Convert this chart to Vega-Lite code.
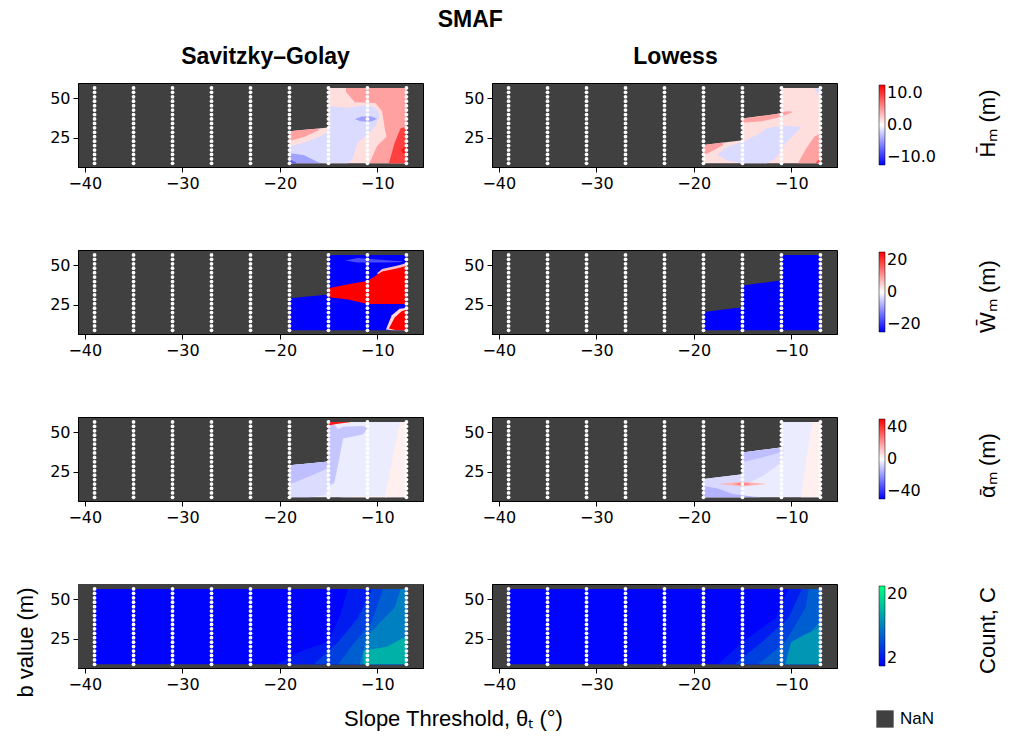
{
"$schema": "https://vega.github.io/schema/vega-lite/v6.json",
"padding": {"left": 14, "top": 8, "right": 5, "bottom": 5},
"title": {"text": "SMAF", "anchor": "middle", "dx": -36, "fontSize": 23, "fontWeight": "bold", "font": "Liberation Sans", "offset": 14},
"config": {
  "font": "Liberation Sans",
  "view": {"stroke": "black", "strokeWidth": 1, "fill": "#404040"},
  "axis": {"labelFont": "DejaVu Sans", "labelFontSize": 16, "labelColor": "black", "domainColor": "black", "tickColor": "black", "tickSize": 5, "grid": false, "titleFont": "Liberation Sans", "titleFontSize": 22, "titleFontWeight": "normal", "titleColor": "black", "labelPadding": 3},
  "legend": {"labelFont": "DejaVu Sans", "labelFontSize": 16, "labelColor": "black", "gradientLength": 80, "gradientThickness": 6, "gradientStrokeColor": "black", "gradientStrokeWidth": 0.5, "padding": 0, "labelOffset": 12},
  "title": {"font": "Liberation Sans", "fontSize": 23, "fontWeight": "bold", "color": "black"}
},
"datasets": {
"pts": [
{"x":-39,"y":8.9},{"x":-39,"y":11.7},{"x":-39,"y":14.5},{"x":-39,"y":17.3},{"x":-39,"y":20.1},{"x":-39,"y":22.9},{"x":-39,"y":25.7},{"x":-39,"y":28.5},{"x":-39,"y":31.3},{"x":-39,"y":34.1},{"x":-39,"y":36.9},{"x":-39,"y":39.7},{"x":-39,"y":42.5},{"x":-39,"y":45.3},{"x":-39,"y":48.1},{"x":-39,"y":50.9},{"x":-39,"y":53.7},{"x":-39,"y":56.5},
{"x":-35,"y":8.9},{"x":-35,"y":11.7},{"x":-35,"y":14.5},{"x":-35,"y":17.3},{"x":-35,"y":20.1},{"x":-35,"y":22.9},{"x":-35,"y":25.7},{"x":-35,"y":28.5},{"x":-35,"y":31.3},{"x":-35,"y":34.1},{"x":-35,"y":36.9},{"x":-35,"y":39.7},{"x":-35,"y":42.5},{"x":-35,"y":45.3},{"x":-35,"y":48.1},{"x":-35,"y":50.9},{"x":-35,"y":53.7},{"x":-35,"y":56.5},
{"x":-31,"y":8.9},{"x":-31,"y":11.7},{"x":-31,"y":14.5},{"x":-31,"y":17.3},{"x":-31,"y":20.1},{"x":-31,"y":22.9},{"x":-31,"y":25.7},{"x":-31,"y":28.5},{"x":-31,"y":31.3},{"x":-31,"y":34.1},{"x":-31,"y":36.9},{"x":-31,"y":39.7},{"x":-31,"y":42.5},{"x":-31,"y":45.3},{"x":-31,"y":48.1},{"x":-31,"y":50.9},{"x":-31,"y":53.7},{"x":-31,"y":56.5},
{"x":-27,"y":8.9},{"x":-27,"y":11.7},{"x":-27,"y":14.5},{"x":-27,"y":17.3},{"x":-27,"y":20.1},{"x":-27,"y":22.9},{"x":-27,"y":25.7},{"x":-27,"y":28.5},{"x":-27,"y":31.3},{"x":-27,"y":34.1},{"x":-27,"y":36.9},{"x":-27,"y":39.7},{"x":-27,"y":42.5},{"x":-27,"y":45.3},{"x":-27,"y":48.1},{"x":-27,"y":50.9},{"x":-27,"y":53.7},{"x":-27,"y":56.5},
{"x":-23,"y":8.9},{"x":-23,"y":11.7},{"x":-23,"y":14.5},{"x":-23,"y":17.3},{"x":-23,"y":20.1},{"x":-23,"y":22.9},{"x":-23,"y":25.7},{"x":-23,"y":28.5},{"x":-23,"y":31.3},{"x":-23,"y":34.1},{"x":-23,"y":36.9},{"x":-23,"y":39.7},{"x":-23,"y":42.5},{"x":-23,"y":45.3},{"x":-23,"y":48.1},{"x":-23,"y":50.9},{"x":-23,"y":53.7},{"x":-23,"y":56.5},
{"x":-19,"y":8.9},{"x":-19,"y":11.7},{"x":-19,"y":14.5},{"x":-19,"y":17.3},{"x":-19,"y":20.1},{"x":-19,"y":22.9},{"x":-19,"y":25.7},{"x":-19,"y":28.5},{"x":-19,"y":31.3},{"x":-19,"y":34.1},{"x":-19,"y":36.9},{"x":-19,"y":39.7},{"x":-19,"y":42.5},{"x":-19,"y":45.3},{"x":-19,"y":48.1},{"x":-19,"y":50.9},{"x":-19,"y":53.7},{"x":-19,"y":56.5},
{"x":-15,"y":8.9},{"x":-15,"y":11.7},{"x":-15,"y":14.5},{"x":-15,"y":17.3},{"x":-15,"y":20.1},{"x":-15,"y":22.9},{"x":-15,"y":25.7},{"x":-15,"y":28.5},{"x":-15,"y":31.3},{"x":-15,"y":34.1},{"x":-15,"y":36.9},{"x":-15,"y":39.7},{"x":-15,"y":42.5},{"x":-15,"y":45.3},{"x":-15,"y":48.1},{"x":-15,"y":50.9},{"x":-15,"y":53.7},{"x":-15,"y":56.5},
{"x":-11,"y":8.9},{"x":-11,"y":11.7},{"x":-11,"y":14.5},{"x":-11,"y":17.3},{"x":-11,"y":20.1},{"x":-11,"y":22.9},{"x":-11,"y":25.7},{"x":-11,"y":28.5},{"x":-11,"y":31.3},{"x":-11,"y":34.1},{"x":-11,"y":36.9},{"x":-11,"y":39.7},{"x":-11,"y":42.5},{"x":-11,"y":45.3},{"x":-11,"y":48.1},{"x":-11,"y":50.9},{"x":-11,"y":53.7},{"x":-11,"y":56.5},
{"x":-7,"y":8.9},{"x":-7,"y":11.7},{"x":-7,"y":14.5},{"x":-7,"y":17.3},{"x":-7,"y":20.1},{"x":-7,"y":22.9},{"x":-7,"y":25.7},{"x":-7,"y":28.5},{"x":-7,"y":31.3},{"x":-7,"y":34.1},{"x":-7,"y":36.9},{"x":-7,"y":39.7},{"x":-7,"y":42.5},{"x":-7,"y":45.3},{"x":-7,"y":48.1},{"x":-7,"y":50.9},{"x":-7,"y":53.7},{"x":-7,"y":56.5}
],
"cont": [
{"p":"H_SG","r":0,"x":-19,"lo":8.9,"hi":29.2,"v":1.3},
{"p":"H_SG","r":0,"x":-15,"lo":8.9,"hi":31.5,"v":1.3},
{"p":"H_SG","r":0,"x":-15,"lo":8.9,"hi":56.5,"v":1.3},
{"p":"H_SG","r":0,"x":-7,"lo":8.9,"hi":56.5,"v":1.3},
{"p":"H_SG","r":1,"x":-13.2,"lo":54,"hi":56.5,"v":3.7},
{"p":"H_SG","r":1,"x":-12.3,"lo":47.5,"hi":56.5,"v":3.7},
{"p":"H_SG","r":1,"x":-10.2,"lo":47,"hi":56.5,"v":3.7},
{"p":"H_SG","r":1,"x":-9.5,"lo":42,"hi":56.5,"v":3.7},
{"p":"H_SG","r":1,"x":-9.2,"lo":30,"hi":56.5,"v":3.7},
{"p":"H_SG","r":1,"x":-8.8,"lo":20,"hi":56.5,"v":3.7},
{"p":"H_SG","r":1,"x":-8.6,"lo":8.9,"hi":56.5,"v":3.7},
{"p":"H_SG","r":1,"x":-7,"lo":8.9,"hi":56.5,"v":3.7},
{"p":"H_SG","r":2,"x":-19,"lo":23,"hi":29.2,"v":3.7},
{"p":"H_SG","r":2,"x":-17.5,"lo":25.5,"hi":30.1,"v":3.7},
{"p":"H_SG","r":2,"x":-16,"lo":29.8,"hi":30.8,"v":3.7},
{"p":"H_SG","r":3,"x":-10.8,"lo":8.9,"hi":8.9,"v":3.7},
{"p":"H_SG","r":3,"x":-10,"lo":8.9,"hi":20,"v":3.7},
{"p":"H_SG","r":3,"x":-9,"lo":8.9,"hi":26,"v":3.7},
{"p":"H_SG","r":3,"x":-8.6,"lo":8.9,"hi":26,"v":3.7},
{"p":"H_SG","r":4,"x":-8.8,"lo":8.9,"hi":8.9,"v":7.5},
{"p":"H_SG","r":4,"x":-8.2,"lo":8.9,"hi":22,"v":7.5},
{"p":"H_SG","r":4,"x":-7.6,"lo":8.9,"hi":31,"v":7.5},
{"p":"H_SG","r":4,"x":-7,"lo":8.9,"hi":32,"v":7.5},
{"p":"H_SG","r":5,"x":-19,"lo":12.5,"hi":19.5,"v":-1.4},
{"p":"H_SG","r":5,"x":-17.5,"lo":10,"hi":22,"v":-1.4},
{"p":"H_SG","r":5,"x":-15.5,"lo":8.9,"hi":27,"v":-1.4},
{"p":"H_SG","r":5,"x":-15,"lo":8.9,"hi":30,"v":-1.4},
{"p":"H_SG","r":5,"x":-14.8,"lo":8.9,"hi":45,"v":-1.4},
{"p":"H_SG","r":5,"x":-13,"lo":8.9,"hi":44,"v":-1.4},
{"p":"H_SG","r":5,"x":-12.5,"lo":12,"hi":44.5,"v":-1.4},
{"p":"H_SG","r":5,"x":-12,"lo":22,"hi":45,"v":-1.4},
{"p":"H_SG","r":5,"x":-11,"lo":27,"hi":45.5,"v":-1.4},
{"p":"H_SG","r":5,"x":-10.2,"lo":32,"hi":44,"v":-1.4},
{"p":"H_SG","r":5,"x":-9.8,"lo":38,"hi":40,"v":-1.4},
{"p":"H_SG","r":6,"x":-19,"lo":8.9,"hi":15.5,"v":-3.7},
{"p":"H_SG","r":6,"x":-17.5,"lo":8.9,"hi":14,"v":-3.7},
{"p":"H_SG","r":6,"x":-16.2,"lo":8.9,"hi":10,"v":-3.7},
{"p":"H_SG","r":6,"x":-15.8,"lo":8.9,"hi":8.9,"v":-3.7},
{"p":"H_SG","r":7,"x":-12.3,"lo":36.8,"hi":36.8,"v":-3.7},
{"p":"H_SG","r":7,"x":-11.6,"lo":35.3,"hi":38.5,"v":-3.7},
{"p":"H_SG","r":7,"x":-10.6,"lo":35.3,"hi":38.5,"v":-3.7},
{"p":"H_SG","r":7,"x":-10,"lo":37,"hi":37,"v":-3.7},
{"p":"H_SG","r":8,"x":-19,"lo":8.9,"hi":11.5,"v":-6.2},
{"p":"H_SG","r":8,"x":-18.3,"lo":8.9,"hi":9.5,"v":-6.2},
{"p":"H_SG","r":9,"x":-7.5,"lo":16,"hi":18,"v":9},
{"p":"H_SG","r":9,"x":-7,"lo":14.5,"hi":19.5,"v":9},
{"p":"H_LO","r":0,"x":-19,"lo":8.9,"hi":20.5,"v":1.3},
{"p":"H_LO","r":0,"x":-15,"lo":8.9,"hi":23.5,"v":1.3},
{"p":"H_LO","r":0,"x":-15,"lo":8.9,"hi":37.2,"v":1.3},
{"p":"H_LO","r":0,"x":-11,"lo":8.9,"hi":40.5,"v":1.3},
{"p":"H_LO","r":0,"x":-11,"lo":8.9,"hi":56.5,"v":1.3},
{"p":"H_LO","r":0,"x":-7,"lo":8.9,"hi":56.5,"v":1.3},
{"p":"H_LO","r":1,"x":-15,"lo":34.5,"hi":37.2,"v":3.7},
{"p":"H_LO","r":1,"x":-13,"lo":35.5,"hi":38.8,"v":3.7},
{"p":"H_LO","r":1,"x":-11.5,"lo":37.5,"hi":40.1,"v":3.7},
{"p":"H_LO","r":1,"x":-10.5,"lo":39.5,"hi":41.8,"v":3.7},
{"p":"H_LO","r":1,"x":-9.9,"lo":41.2,"hi":41.6,"v":3.7},
{"p":"H_LO","r":2,"x":-19,"lo":14,"hi":20.5,"v":3.7},
{"p":"H_LO","r":2,"x":-18,"lo":17,"hi":21.2,"v":3.7},
{"p":"H_LO","r":2,"x":-17,"lo":20.3,"hi":22,"v":3.7},
{"p":"H_LO","r":3,"x":-9.3,"lo":8.9,"hi":8.9,"v":3.7},
{"p":"H_LO","r":3,"x":-8.5,"lo":8.9,"hi":18,"v":3.7},
{"p":"H_LO","r":3,"x":-7.6,"lo":8.9,"hi":26,"v":3.7},
{"p":"H_LO","r":3,"x":-7,"lo":8.9,"hi":27.5,"v":3.7},
{"p":"H_LO","r":4,"x":-7.5,"lo":8.9,"hi":8.9,"v":7},
{"p":"H_LO","r":4,"x":-7,"lo":8.9,"hi":13,"v":7},
{"p":"H_LO","r":5,"x":-17.5,"lo":14,"hi":15,"v":-1.4},
{"p":"H_LO","r":5,"x":-16.5,"lo":10.5,"hi":19.5,"v":-1.4},
{"p":"H_LO","r":5,"x":-15,"lo":8.9,"hi":22.5,"v":-1.4},
{"p":"H_LO","r":5,"x":-13.5,"lo":8.9,"hi":27,"v":-1.4},
{"p":"H_LO","r":5,"x":-12.5,"lo":8.9,"hi":31,"v":-1.4},
{"p":"H_LO","r":5,"x":-11.6,"lo":12,"hi":32,"v":-1.4},
{"p":"H_LO","r":5,"x":-10.5,"lo":22,"hi":32.5,"v":-1.4},
{"p":"H_LO","r":5,"x":-9,"lo":31.5,"hi":32,"v":-1.4},
{"p":"H_LO","r":6,"x":-7.6,"lo":55.5,"hi":56.5,"v":-1.4},
{"p":"H_LO","r":6,"x":-7,"lo":51,"hi":56.5,"v":-1.4},
{"p":"W_SG","r":0,"x":-19,"lo":8.9,"hi":29.2,"v":-20},
{"p":"W_SG","r":0,"x":-15,"lo":8.9,"hi":31.5,"v":-20},
{"p":"W_SG","r":0,"x":-15,"lo":8.9,"hi":56.5,"v":-20},
{"p":"W_SG","r":0,"x":-7,"lo":8.9,"hi":56.5,"v":-20},
{"p":"W_SG","r":1,"x":-10,"lo":45,"hi":45,"v":5},
{"p":"W_SG","r":1,"x":-9.5,"lo":40,"hi":47.6,"v":5},
{"p":"W_SG","r":1,"x":-8,"lo":40,"hi":49.6,"v":5},
{"p":"W_SG","r":1,"x":-7,"lo":40,"hi":51.2,"v":5},
{"p":"W_SG","r":2,"x":-15,"lo":29.8,"hi":35.5,"v":20},
{"p":"W_SG","r":2,"x":-13,"lo":28.3,"hi":38,"v":20},
{"p":"W_SG","r":2,"x":-11,"lo":25.5,"hi":40,"v":20},
{"p":"W_SG","r":2,"x":-9.5,"lo":25.5,"hi":46,"v":20},
{"p":"W_SG","r":2,"x":-8,"lo":25.5,"hi":48,"v":20},
{"p":"W_SG","r":2,"x":-7,"lo":25.5,"hi":49.5,"v":20},
{"p":"W_SG","r":3,"x":-13.3,"lo":53,"hi":53,"v":-14},
{"p":"W_SG","r":3,"x":-12,"lo":51.7,"hi":54.5,"v":-14},
{"p":"W_SG","r":3,"x":-9,"lo":51.7,"hi":53.2,"v":-14},
{"p":"W_SG","r":3,"x":-7.5,"lo":52,"hi":52.5,"v":-14},
{"p":"W_SG","r":4,"x":-9.1,"lo":9.5,"hi":9.5,"v":3},
{"p":"W_SG","r":4,"x":-8.5,"lo":8.9,"hi":18.5,"v":3},
{"p":"W_SG","r":4,"x":-7.7,"lo":8.9,"hi":22.5,"v":3},
{"p":"W_SG","r":4,"x":-7,"lo":8.9,"hi":23,"v":3},
{"p":"W_SG","r":5,"x":-8.8,"lo":10,"hi":10,"v":20},
{"p":"W_SG","r":5,"x":-8.2,"lo":9.2,"hi":17,"v":20},
{"p":"W_SG","r":5,"x":-7.5,"lo":8.9,"hi":21,"v":20},
{"p":"W_SG","r":5,"x":-7,"lo":8.9,"hi":22,"v":20},
{"p":"W_LO","r":0,"x":-19,"lo":8.9,"hi":20.5,"v":-20},
{"p":"W_LO","r":0,"x":-15,"lo":8.9,"hi":23.5,"v":-20},
{"p":"W_LO","r":0,"x":-15,"lo":8.9,"hi":37.2,"v":-20},
{"p":"W_LO","r":0,"x":-11,"lo":8.9,"hi":40.5,"v":-20},
{"p":"W_LO","r":0,"x":-11,"lo":8.9,"hi":56.5,"v":-20},
{"p":"W_LO","r":0,"x":-7,"lo":8.9,"hi":56.5,"v":-20},
{"p":"A_SG","r":0,"x":-19,"lo":8.9,"hi":29.2,"v":-3},
{"p":"A_SG","r":0,"x":-15,"lo":8.9,"hi":31.5,"v":-3},
{"p":"A_SG","r":0,"x":-15,"lo":8.9,"hi":56.5,"v":-3},
{"p":"A_SG","r":0,"x":-7,"lo":8.9,"hi":56.5,"v":-3},
{"p":"A_SG","r":1,"x":-19,"lo":8.9,"hi":29.2,"v":-5.5},
{"p":"A_SG","r":1,"x":-17,"lo":8.9,"hi":30.3,"v":-5.5},
{"p":"A_SG","r":1,"x":-15.5,"lo":10,"hi":31.2,"v":-5.5},
{"p":"A_SG","r":1,"x":-15,"lo":12,"hi":31.5,"v":-5.5},
{"p":"A_SG","r":2,"x":-19,"lo":17,"hi":29.2,"v":-10},
{"p":"A_SG","r":2,"x":-17,"lo":22,"hi":30.3,"v":-10},
{"p":"A_SG","r":2,"x":-15.5,"lo":26,"hi":31.2,"v":-10},
{"p":"A_SG","r":2,"x":-15,"lo":28,"hi":31.5,"v":-10},
{"p":"A_SG","r":3,"x":-15,"lo":16,"hi":54.5,"v":-9},
{"p":"A_SG","r":3,"x":-14.4,"lo":18,"hi":54.5,"v":-9},
{"p":"A_SG","r":3,"x":-14,"lo":30,"hi":52,"v":-9},
{"p":"A_SG","r":3,"x":-13.5,"lo":46,"hi":53.5,"v":-9},
{"p":"A_SG","r":3,"x":-11.5,"lo":48.5,"hi":54,"v":-9},
{"p":"A_SG","r":3,"x":-11,"lo":52,"hi":53,"v":-9},
{"p":"A_SG","r":4,"x":-9.2,"lo":8.9,"hi":9.5,"v":2.5},
{"p":"A_SG","r":4,"x":-8.6,"lo":8.9,"hi":28,"v":2.5},
{"p":"A_SG","r":4,"x":-8.1,"lo":8.9,"hi":44,"v":2.5},
{"p":"A_SG","r":4,"x":-7.7,"lo":8.9,"hi":56.5,"v":2.5},
{"p":"A_SG","r":4,"x":-7,"lo":8.9,"hi":56.5,"v":2.5},
{"p":"A_SG","r":5,"x":-14,"lo":8.9,"hi":8.9,"v":2.5},
{"p":"A_SG","r":5,"x":-12,"lo":8.9,"hi":9.6,"v":2.5},
{"p":"A_SG","r":5,"x":-9,"lo":8.9,"hi":9.8,"v":2.5},
{"p":"A_SG","r":6,"x":-15,"lo":54.3,"hi":56.5,"v":36},
{"p":"A_SG","r":6,"x":-14,"lo":55.3,"hi":56.5,"v":36},
{"p":"A_SG","r":6,"x":-12.8,"lo":56.3,"hi":56.5,"v":36},
{"p":"A_LO","r":0,"x":-19,"lo":8.9,"hi":20.5,"v":-3},
{"p":"A_LO","r":0,"x":-15,"lo":8.9,"hi":23.5,"v":-3},
{"p":"A_LO","r":0,"x":-15,"lo":8.9,"hi":37.2,"v":-3},
{"p":"A_LO","r":0,"x":-11,"lo":8.9,"hi":40.5,"v":-3},
{"p":"A_LO","r":0,"x":-11,"lo":8.9,"hi":56.5,"v":-3},
{"p":"A_LO","r":0,"x":-7,"lo":8.9,"hi":56.5,"v":-3},
{"p":"A_LO","r":1,"x":-19,"lo":8.9,"hi":20.5,"v":-6},
{"p":"A_LO","r":1,"x":-15,"lo":8.9,"hi":23.5,"v":-6},
{"p":"A_LO","r":1,"x":-15,"lo":16,"hi":37.2,"v":-6},
{"p":"A_LO","r":1,"x":-13,"lo":22,"hi":38.8,"v":-6},
{"p":"A_LO","r":1,"x":-11.2,"lo":30,"hi":40.2,"v":-6},
{"p":"A_LO","r":1,"x":-10.8,"lo":33,"hi":40.3,"v":-6},
{"p":"A_LO","r":2,"x":-15,"lo":31,"hi":37.2,"v":-10},
{"p":"A_LO","r":2,"x":-13,"lo":34,"hi":38.8,"v":-10},
{"p":"A_LO","r":2,"x":-11.2,"lo":37,"hi":40.2,"v":-10},
{"p":"A_LO","r":2,"x":-10.8,"lo":39.5,"hi":40.3,"v":-10},
{"p":"A_LO","r":3,"x":-19,"lo":8.9,"hi":16,"v":-12},
{"p":"A_LO","r":3,"x":-17.5,"lo":8.9,"hi":14.5,"v":-12},
{"p":"A_LO","r":3,"x":-16,"lo":8.9,"hi":11,"v":-12},
{"p":"A_LO","r":3,"x":-14,"lo":8.9,"hi":9.5,"v":-12},
{"p":"A_LO","r":3,"x":-13,"lo":8.9,"hi":8.9,"v":-12},
{"p":"A_LO","r":4,"x":-17.5,"lo":17.3,"hi":17.3,"v":12},
{"p":"A_LO","r":4,"x":-15,"lo":15.8,"hi":18.8,"v":12},
{"p":"A_LO","r":4,"x":-12.5,"lo":17.3,"hi":17.3,"v":12},
{"p":"A_LO","r":5,"x":-16,"lo":17.3,"hi":17.3,"v":22},
{"p":"A_LO","r":5,"x":-15,"lo":16.6,"hi":18,"v":22},
{"p":"A_LO","r":5,"x":-14,"lo":17.3,"hi":17.3,"v":22},
{"p":"A_LO","r":6,"x":-9,"lo":8.9,"hi":8.9,"v":2.5},
{"p":"A_LO","r":6,"x":-8.4,"lo":8.9,"hi":35,"v":2.5},
{"p":"A_LO","r":6,"x":-8,"lo":8.9,"hi":50,"v":2.5},
{"p":"A_LO","r":6,"x":-7.8,"lo":8.9,"hi":56.5,"v":2.5},
{"p":"A_LO","r":6,"x":-7,"lo":8.9,"hi":56.5,"v":2.5},
{"p":"C_SG","r":0,"x":-39,"lo":8.9,"hi":56.5,"v":2.3},
{"p":"C_SG","r":0,"x":-7,"lo":8.9,"hi":56.5,"v":2.3},
{"p":"C_SG","r":1,"x":-20.3,"lo":8.9,"hi":8.9,"v":4},
{"p":"C_SG","r":1,"x":-17.5,"lo":8.9,"hi":18,"v":4},
{"p":"C_SG","r":1,"x":-15,"lo":8.9,"hi":23,"v":4},
{"p":"C_SG","r":1,"x":-13.8,"lo":8.9,"hi":40,"v":4},
{"p":"C_SG","r":1,"x":-13,"lo":8.9,"hi":56.5,"v":4},
{"p":"C_SG","r":1,"x":-7,"lo":8.9,"hi":56.5,"v":4},
{"p":"C_SG","r":2,"x":-16.5,"lo":8.9,"hi":8.9,"v":6.5},
{"p":"C_SG","r":2,"x":-14,"lo":8.9,"hi":23,"v":6.5},
{"p":"C_SG","r":2,"x":-12,"lo":8.9,"hi":38,"v":6.5},
{"p":"C_SG","r":2,"x":-10.5,"lo":8.9,"hi":56.5,"v":6.5},
{"p":"C_SG","r":2,"x":-7,"lo":8.9,"hi":56.5,"v":6.5},
{"p":"C_SG","r":3,"x":-14,"lo":8.9,"hi":8.9,"v":8.7},
{"p":"C_SG","r":3,"x":-12.3,"lo":8.9,"hi":23,"v":8.7},
{"p":"C_SG","r":3,"x":-10.6,"lo":8.9,"hi":35,"v":8.7},
{"p":"C_SG","r":3,"x":-9.4,"lo":8.9,"hi":56.5,"v":8.7},
{"p":"C_SG","r":3,"x":-7,"lo":8.9,"hi":56.5,"v":8.7},
{"p":"C_SG","r":4,"x":-11.8,"lo":8.9,"hi":8.9,"v":11},
{"p":"C_SG","r":4,"x":-11,"lo":8.9,"hi":27,"v":11},
{"p":"C_SG","r":4,"x":-8.2,"lo":8.9,"hi":45,"v":11},
{"p":"C_SG","r":4,"x":-7.6,"lo":8.9,"hi":56.5,"v":11},
{"p":"C_SG","r":4,"x":-7,"lo":8.9,"hi":56.5,"v":11},
{"p":"C_SG","r":5,"x":-11.4,"lo":8.9,"hi":17,"v":14.5},
{"p":"C_SG","r":5,"x":-11,"lo":8.9,"hi":18,"v":14.5},
{"p":"C_SG","r":5,"x":-9,"lo":8.9,"hi":20,"v":14.5},
{"p":"C_SG","r":5,"x":-7.5,"lo":8.9,"hi":25,"v":14.5},
{"p":"C_SG","r":5,"x":-7,"lo":8.9,"hi":26,"v":14.5},
{"p":"C_LO","r":0,"x":-39,"lo":8.9,"hi":56.5,"v":2.3},
{"p":"C_LO","r":0,"x":-7,"lo":8.9,"hi":56.5,"v":2.3},
{"p":"C_LO","r":1,"x":-17.5,"lo":8.9,"hi":8.9,"v":4},
{"p":"C_LO","r":1,"x":-15,"lo":8.9,"hi":23,"v":4},
{"p":"C_LO","r":1,"x":-11.6,"lo":8.9,"hi":38,"v":4},
{"p":"C_LO","r":1,"x":-10.3,"lo":8.9,"hi":56.5,"v":4},
{"p":"C_LO","r":1,"x":-7,"lo":8.9,"hi":56.5,"v":4},
{"p":"C_LO","r":2,"x":-15.8,"lo":8.9,"hi":8.9,"v":6.5},
{"p":"C_LO","r":2,"x":-13,"lo":8.9,"hi":23,"v":6.5},
{"p":"C_LO","r":2,"x":-10.3,"lo":8.9,"hi":38,"v":6.5},
{"p":"C_LO","r":2,"x":-8.9,"lo":8.9,"hi":56.5,"v":6.5},
{"p":"C_LO","r":2,"x":-7,"lo":8.9,"hi":56.5,"v":6.5},
{"p":"C_LO","r":3,"x":-13.4,"lo":8.9,"hi":8.9,"v":8.7},
{"p":"C_LO","r":3,"x":-10.6,"lo":8.9,"hi":23,"v":8.7},
{"p":"C_LO","r":3,"x":-8.5,"lo":8.9,"hi":45,"v":8.7},
{"p":"C_LO","r":3,"x":-8.2,"lo":8.9,"hi":56.5,"v":8.7},
{"p":"C_LO","r":3,"x":-7,"lo":8.9,"hi":56.5,"v":8.7},
{"p":"C_LO","r":4,"x":-10.6,"lo":8.9,"hi":8.9,"v":11},
{"p":"C_LO","r":4,"x":-8.9,"lo":8.9,"hi":23,"v":11},
{"p":"C_LO","r":4,"x":-7.2,"lo":8.9,"hi":35,"v":11},
{"p":"C_LO","r":4,"x":-7,"lo":8.9,"hi":37,"v":11},
{"p":"C_LO","r":5,"x":-10.6,"lo":8.9,"hi":9.5,"v":12.6},
{"p":"C_LO","r":5,"x":-10,"lo":8.9,"hi":23,"v":12.6},
{"p":"C_LO","r":5,"x":-8.5,"lo":8.9,"hi":28,"v":12.6},
{"p":"C_LO","r":5,"x":-7,"lo":8.9,"hi":32,"v":12.6}
]
},
"columns": 2,
"bounds": "flush",
"spacing": {"row": 83, "column": 69},
"resolve": {"scale": {"color": "independent", "fill": "independent"}, "legend": {"color": "independent", "fill": "independent"}},
"concat": [
   {"width": 345, "height": 84, "title": {"text": "Savitzky–Golay", "dx": 15, "offset": 14},
    "layer": [
     {"data": {"name": "cont"}, "transform": [{"filter": "datum.p == 'H_SG'"}],
      "mark": {"type": "area", "interpolate": "linear", "opacity": 1},
      "encoding": {
       "x": {"field": "x", "type": "quantitative", "scale": {"domain": [-40.7, -5.3], "nice": false, "zero": false}, "axis": {"values": [-40, -30, -20, -10], "title": null}},
       "y": {"field": "lo", "type": "quantitative", "stack": null, "scale": {"domain": [6.6, 59.6], "nice": false, "zero": false}, "axis": {"values": [25, 50], "title": null}},
       "y2": {"field": "hi"},
       "detail": {"field": "r", "type": "nominal"},
       "color": {"field": "v", "type": "quantitative", "scale": {"domain": [-10, 0, 10], "range": ["#0000ff", "#ffffff", "#ff0000"], "interpolate": "rgb", "clamp": true}, "legend": null}
      }},
     {"data": {"name": "pts"}, "mark": {"type": "circle", "color": "white", "size": 14, "opacity": 1},
      "encoding": {"x": {"field": "x", "type": "quantitative"}, "y": {"field": "y", "type": "quantitative"}}}
    ]},
   {"width": 345, "height": 84, "title": {"text": "Lowess", "dx": 11, "offset": 14},
    "resolve": {"axis": {"y": "independent"}},
    "layer": [
     {"data": {"name": "cont"}, "transform": [{"filter": "datum.p == 'H_LO'"}],
      "mark": {"type": "area", "interpolate": "linear", "opacity": 1},
      "encoding": {
       "x": {"field": "x", "type": "quantitative", "scale": {"domain": [-40.7, -5.3], "nice": false, "zero": false}, "axis": {"values": [-40, -30, -20, -10], "title": null}},
       "y": {"field": "lo", "type": "quantitative", "stack": null, "scale": {"domain": [6.6, 59.6], "nice": false, "zero": false}, "axis": {"values": [25, 50], "title": null}},
       "y2": {"field": "hi"},
       "detail": {"field": "r", "type": "nominal"},
       "color": {"field": "v", "type": "quantitative", "scale": {"domain": [-10, 0, 10], "range": ["#0000ff", "#ffffff", "#ff0000"], "interpolate": "rgb", "clamp": true},
        "legend": {"title": null, "values": [-10, 0, 10], "format": ".1f", "orient": "none", "direction": "vertical", "legendX": 387, "legendY": 2}}
      }},
     {"data": {"name": "pts"}, "mark": {"type": "circle", "color": "white", "size": 14, "opacity": 1},
      "encoding": {"x": {"field": "x", "type": "quantitative"}, "y": {"field": "y", "type": "quantitative", "axis": {"orient": "right", "labels": false, "ticks": false, "domain": false, "title": "H̄ₘ (m)", "titleAngle": 270, "titleX": 150, "titleY": 40, "titleAlign": "center", "titleBaseline": "middle"}}}}
    ]},
   {"width": 345, "height": 84,
    "layer": [
     {"data": {"name": "cont"}, "transform": [{"filter": "datum.p == 'W_SG'"}],
      "mark": {"type": "area", "interpolate": "linear", "opacity": 1},
      "encoding": {
       "x": {"field": "x", "type": "quantitative", "scale": {"domain": [-40.7, -5.3], "nice": false, "zero": false}, "axis": {"values": [-40, -30, -20, -10], "title": null}},
       "y": {"field": "lo", "type": "quantitative", "stack": null, "scale": {"domain": [6.6, 59.6], "nice": false, "zero": false}, "axis": {"values": [25, 50], "title": null}},
       "y2": {"field": "hi"},
       "detail": {"field": "r", "type": "nominal"},
       "color": {"field": "v", "type": "quantitative", "scale": {"domain": [-20, 0, 20], "range": ["#0000ff", "#ffffff", "#ff0000"], "interpolate": "rgb", "clamp": true}, "legend": null}
      }},
     {"data": {"name": "pts"}, "mark": {"type": "circle", "color": "white", "size": 14, "opacity": 1},
      "encoding": {"x": {"field": "x", "type": "quantitative"}, "y": {"field": "y", "type": "quantitative"}}}
    ]},
   {"width": 345, "height": 84,
    "resolve": {"axis": {"y": "independent"}},
    "layer": [
     {"data": {"name": "cont"}, "transform": [{"filter": "datum.p == 'W_LO'"}],
      "mark": {"type": "area", "interpolate": "linear", "opacity": 1},
      "encoding": {
       "x": {"field": "x", "type": "quantitative", "scale": {"domain": [-40.7, -5.3], "nice": false, "zero": false}, "axis": {"values": [-40, -30, -20, -10], "title": null}},
       "y": {"field": "lo", "type": "quantitative", "stack": null, "scale": {"domain": [6.6, 59.6], "nice": false, "zero": false}, "axis": {"values": [25, 50], "title": null}},
       "y2": {"field": "hi"},
       "detail": {"field": "r", "type": "nominal"},
       "color": {"field": "v", "type": "quantitative", "scale": {"domain": [-20, 0, 20], "range": ["#0000ff", "#ffffff", "#ff0000"], "interpolate": "rgb", "clamp": true},
        "legend": {"title": null, "values": [-20, 0, 20], "format": "d", "orient": "none", "direction": "vertical", "legendX": 387, "legendY": 2}}
      }},
     {"data": {"name": "pts"}, "mark": {"type": "circle", "color": "white", "size": 14, "opacity": 1},
      "encoding": {"x": {"field": "x", "type": "quantitative"}, "y": {"field": "y", "type": "quantitative", "axis": {"orient": "right", "labels": false, "ticks": false, "domain": false, "title": "W̄ₘ (m)", "titleAngle": 270, "titleX": 150, "titleY": 46, "titleAlign": "center", "titleBaseline": "middle"}}}}
    ]},
   {"width": 345, "height": 84,
    "layer": [
     {"data": {"name": "cont"}, "transform": [{"filter": "datum.p == 'A_SG'"}],
      "mark": {"type": "area", "interpolate": "linear", "opacity": 1},
      "encoding": {
       "x": {"field": "x", "type": "quantitative", "scale": {"domain": [-40.7, -5.3], "nice": false, "zero": false}, "axis": {"values": [-40, -30, -20, -10], "title": null}},
       "y": {"field": "lo", "type": "quantitative", "stack": null, "scale": {"domain": [6.6, 59.6], "nice": false, "zero": false}, "axis": {"values": [25, 50], "title": null}},
       "y2": {"field": "hi"},
       "detail": {"field": "r", "type": "nominal"},
       "color": {"field": "v", "type": "quantitative", "scale": {"domain": [-40, 0, 40], "range": ["#0000ff", "#ffffff", "#ff0000"], "interpolate": "rgb", "clamp": true}, "legend": null}
      }},
     {"data": {"name": "pts"}, "mark": {"type": "circle", "color": "white", "size": 14, "opacity": 1},
      "encoding": {"x": {"field": "x", "type": "quantitative"}, "y": {"field": "y", "type": "quantitative"}}}
    ]},
   {"width": 345, "height": 84,
    "resolve": {"axis": {"y": "independent"}},
    "layer": [
     {"data": {"name": "cont"}, "transform": [{"filter": "datum.p == 'A_LO'"}],
      "mark": {"type": "area", "interpolate": "linear", "opacity": 1},
      "encoding": {
       "x": {"field": "x", "type": "quantitative", "scale": {"domain": [-40.7, -5.3], "nice": false, "zero": false}, "axis": {"values": [-40, -30, -20, -10], "title": null}},
       "y": {"field": "lo", "type": "quantitative", "stack": null, "scale": {"domain": [6.6, 59.6], "nice": false, "zero": false}, "axis": {"values": [25, 50], "title": null}},
       "y2": {"field": "hi"},
       "detail": {"field": "r", "type": "nominal"},
       "color": {"field": "v", "type": "quantitative", "scale": {"domain": [-40, 0, 40], "range": ["#0000ff", "#ffffff", "#ff0000"], "interpolate": "rgb", "clamp": true},
        "legend": {"title": null, "values": [-40, 0, 40], "format": "d", "orient": "none", "direction": "vertical", "legendX": 387, "legendY": 2}}
      }},
     {"data": {"name": "pts"}, "mark": {"type": "circle", "color": "white", "size": 14, "opacity": 1},
      "encoding": {"x": {"field": "x", "type": "quantitative"}, "y": {"field": "y", "type": "quantitative", "axis": {"orient": "right", "labels": false, "ticks": false, "domain": false, "title": "ᾱₘ (m)", "titleAngle": 270, "titleX": 150, "titleY": 48, "titleAlign": "center", "titleBaseline": "middle"}}}}
    ]},
   {"width": 345, "height": 84,
    "layer": [
     {"data": {"values": [{"m": "NaN"}]}, "mark": {"type": "rect"},
      "encoding": {"fill": {"field": "m", "type": "nominal", "scale": {"range": ["#404040"]},
        "legend": {"title": null, "orient": "none", "legendX": 798, "legendY": 126, "symbolType": "square", "symbolSize": 300, "symbolStrokeWidth": 0, "labelFont": "Liberation Sans", "labelFontSize": 17, "labelOffset": 6}}}},
     {"data": {"name": "cont"}, "transform": [{"filter": "datum.p == 'C_SG'"}],
      "mark": {"type": "area", "interpolate": "linear", "opacity": 1},
      "encoding": {
       "x": {"field": "x", "type": "quantitative", "scale": {"domain": [-40.7, -5.3], "nice": false, "zero": false}, "axis": {"values": [-40, -30, -20, -10], "title": "Slope Threshold, θₜ (°)", "titleX": 375, "titlePadding": 16}},
       "y": {"field": "lo", "type": "quantitative", "stack": null, "scale": {"domain": [6.6, 59.6], "nice": false, "zero": false}, "axis": {"values": [25, 50], "title": "b value (m)", "titlePadding": 12, "titleY": 58}},
       "y2": {"field": "hi"},
       "detail": {"field": "r", "type": "nominal"},
       "color": {"field": "v", "type": "quantitative", "scale": {"domain": [2, 20], "range": ["#0000ff", "#00ff80"], "interpolate": "rgb", "clamp": true}, "legend": null}
      }},
     {"data": {"name": "pts"}, "mark": {"type": "circle", "color": "white", "size": 14, "opacity": 1},
      "encoding": {"x": {"field": "x", "type": "quantitative"}, "y": {"field": "y", "type": "quantitative"}}}
    ]},
   {"width": 345, "height": 84,
    "resolve": {"axis": {"y": "independent"}},
    "layer": [
     {"data": {"name": "cont"}, "transform": [{"filter": "datum.p == 'C_LO'"}],
      "mark": {"type": "area", "interpolate": "linear", "opacity": 1},
      "encoding": {
       "x": {"field": "x", "type": "quantitative", "scale": {"domain": [-40.7, -5.3], "nice": false, "zero": false}, "axis": {"values": [-40, -30, -20, -10], "title": null}},
       "y": {"field": "lo", "type": "quantitative", "stack": null, "scale": {"domain": [6.6, 59.6], "nice": false, "zero": false}, "axis": {"values": [25, 50], "title": null}},
       "y2": {"field": "hi"},
       "detail": {"field": "r", "type": "nominal"},
       "color": {"field": "v", "type": "quantitative", "scale": {"domain": [2, 20], "range": ["#0000ff", "#00ff80"], "interpolate": "rgb", "clamp": true},
        "legend": {"title": null, "values": [2, 20], "format": "d", "orient": "none", "direction": "vertical", "legendX": 387, "legendY": 2}}
      }},
     {"data": {"name": "pts"}, "mark": {"type": "circle", "color": "white", "size": 14, "opacity": 1},
      "encoding": {"x": {"field": "x", "type": "quantitative"}, "y": {"field": "y", "type": "quantitative", "axis": {"orient": "right", "labels": false, "ticks": false, "domain": false, "title": "Count, C", "titleAngle": 270, "titleX": 150, "titleY": 46, "titleAlign": "center", "titleBaseline": "middle"}}}}
    ]}
]
}
